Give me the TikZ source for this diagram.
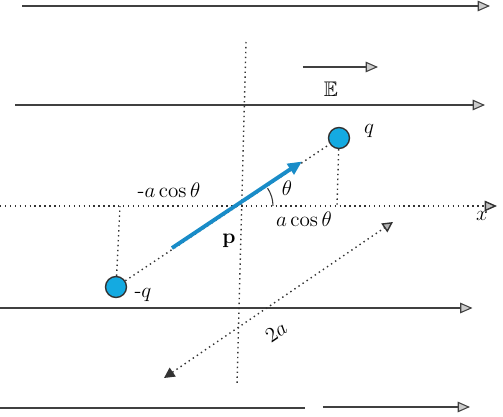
\documentclass[tikz,border=0pt]{standalone}
\usepackage{amssymb}
\usepackage{amsmath}
\usepackage{tikz}
\usetikzlibrary{arrows.meta, calc}

\definecolor{qblue}{RGB}{20,170,225}
\definecolor{pblue}{RGB}{25,140,200}

\tikzset{
  fieldline/.style={draw=black!75, line width=0.6pt, -{Triangle[open, fill=gray!40, length=7pt, width=6pt]}},
  guide/.style={draw=black!80, dotted, line width=0.8pt},
  charge/.style={circle, draw=black!80, fill=qblue, line width=0.8pt, minimum size=0.42cm, inner sep=0pt},
  lbl/.style={font=\large}
}

\begin{document}
\begin{tikzpicture}[scale=1]
\useasboundingbox (0,0) rectangle (10.06,-8.34);

% field lines
\coordinate (l1a) at (0.44,-0.12); \coordinate (l1b) at (9.8,-0.12);
\coordinate (l2a) at (0.3,-2.1);   \coordinate (l2b) at (9.7,-2.1);
\coordinate (l3a) at (0,-6.16);    \coordinate (l3b) at (9.45,-6.16);
\coordinate (l4a) at (0,-8.16);    \coordinate (l4b) at (6.1,-8.16);
\coordinate (l5a) at (6.46,-8.14); \coordinate (l5b) at (9.4,-8.14);
\draw[fieldline] (l1a)--(l1b);
\draw[fieldline] (l2a)--(l2b);
\draw[fieldline] (l3a)--(l3b);
\draw[draw=black!75, line width=0.6pt] (l4a)--(l4b);
\draw[fieldline] (l5a)--(l5b);

\coordinate (e1) at (6.06,-1.34); \coordinate (e2) at (7.56,-1.34);
\draw[fieldline] (e1)--(e2);
\node[lbl] (E) at (6.62,-1.78) {$\mathbb{E}$};

% axes
\coordinate (xa) at (0,-4.12); \coordinate (xb) at (9.94,-4.12);
\draw[guide, -{Triangle[fill=gray!50, length=7pt, width=6pt]}] (xa)--(xb);
\node[lbl] (xl) at (9.64,-4.32) {$x$};
\coordinate (ya) at (4.92,-0.84); \coordinate (yb) at (4.74,-7.7);
\draw[guide] (ya)--(yb);
\coordinate (O) at (4.82,-4.12);

% charges
\node[charge] (qp) at (6.78,-2.76) {};
\node[charge] (qm) at (2.32,-5.74) {};
\node[lbl] (lqp) at (7.38,-2.62) {$q$};
\node[lbl] (lqm) at (2.86,-5.9) {$\text{-}q$};
\draw[guide] (qm)--(qp);

% projections
\coordinate (pp) at (6.74,-4.12); \coordinate (pm) at (2.4,-4.12);
\draw[guide] (qp)--(pp);
\draw[guide] (qm)--(pm);
\node[lbl] (lam) at (3.38,-3.8) {$\text{-}a\cos\theta$};
\node[lbl] (lap) at (6.08,-4.38) {$a\cos\theta$};

% dipole moment
\coordinate (p1) at (3.44,-4.96); \coordinate (p2) at (6.04,-3.23);
\draw[pblue, line width=2.2pt, -{Triangle[length=8pt, width=7pt]}] (p1)--(p2);
\node[lbl] (lp) at (4.58,-4.82) {$\mathbf{p}$};
\draw[black!80, line width=0.6pt] ($(O)+(0.64,0)$) arc (0:34:0.64);
\node[lbl] (lth) at (5.74,-3.76) {$\theta$};

% 2a
\coordinate (d1) at (3.28,-7.56); \coordinate (d2) at (7.86,-4.44);
\draw[guide, {Triangle[length=6pt, width=6pt]}-{Triangle[fill=gray!60, length=6pt, width=6pt]}] (d1)--(d2);
\node[lbl, rotate=34] (ltwoa) at (5.52,-6.64) {$2a$};

\end{tikzpicture}
\end{document}
